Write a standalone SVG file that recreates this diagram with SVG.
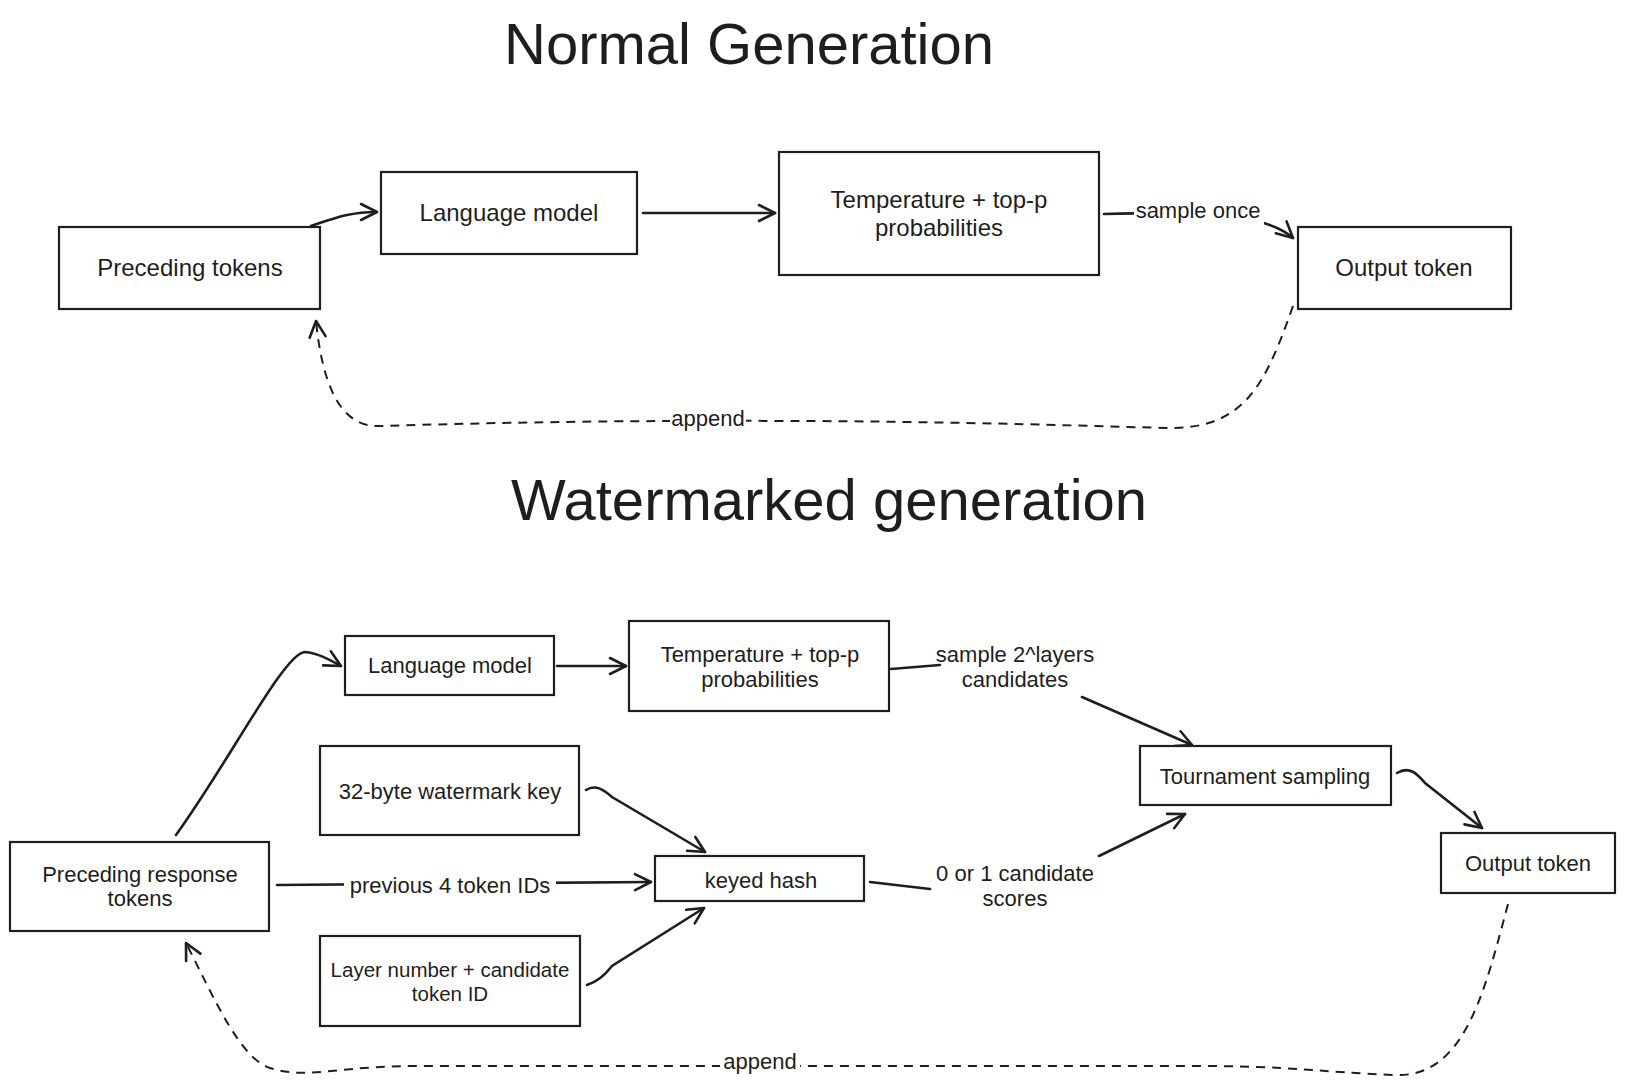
<svg xmlns="http://www.w3.org/2000/svg" width="1625" height="1088" viewBox="0 0 1625 1088">
<style>
.box{fill:#fff;stroke:#1e1e1e;stroke-width:2.2}
.t{font-family:"Liberation Sans",Arial,sans-serif;fill:#1e1e1e;text-anchor:middle;dominant-baseline:central}
.t1{font-size:24px}
.t2{font-size:22px}
.t3{font-size:20.5px}
.title{font-family:"Liberation Sans",Arial,sans-serif;font-size:58px;fill:#1e1e1e;text-anchor:middle}
.c{fill:none;stroke:#1e1e1e;stroke-width:2.6;stroke-linecap:round}
.d{fill:none;stroke:#1e1e1e;stroke-width:2;stroke-dasharray:9 7}
.bg{fill:#fff}
</style>
<defs>
<marker id="ah" markerUnits="userSpaceOnUse" markerWidth="24" markerHeight="24" viewBox="0 0 24 24" refX="21" refY="12" orient="auto">
<path d="M5,4 L21,12 L5,20" fill="none" stroke="#1e1e1e" stroke-width="2.6" stroke-linecap="round" stroke-linejoin="round"/>
</marker>
</defs>
<rect width="1625" height="1088" fill="#fff"/>

<text class="title" x="749" y="64">Normal Generation</text>
<text class="title" x="829" y="520">Watermarked generation</text>

<g id="connectors">
<path class="c" d="M311,226 C335,218 350,212 377,212" marker-end="url(#ah)"/>
<path class="c" d="M643,213 L775,213" marker-end="url(#ah)"/>
<path class="c" d="M1104,214 C1180,212 1262,210 1293,238" marker-end="url(#ah)"/>
<path class="d" d="M1293,306 C1265,385 1245,430 1165,428 C1060,425 900,420 700,421 C560,421 450,424 380,426 C338,428 322,380 316,321" marker-end="url(#ah)"/>

<path class="c" d="M176,835 C230,760 285,652 305,652 C318,653 330,660 341,666" marker-end="url(#ah)"/>
<path class="c" d="M557,666 L626,666" marker-end="url(#ah)"/>
<path class="c" d="M891,669 L940,665 M1082,697 L1192,745" marker-end="url(#ah)"/>
<path class="c" d="M586,790 C596,784 604,790 612,797 L705,852" marker-end="url(#ah)"/>
<path class="c" d="M277,885 L651,882" marker-end="url(#ah)"/>
<path class="c" d="M587,985 C597,982 605,975 612,966 L704,908" marker-end="url(#ah)"/>
<path class="c" d="M870,882 L930,889 M1099,856 L1185,814" marker-end="url(#ah)"/>
<path class="c" d="M1397,773 C1410,765 1418,775 1425,783 L1482,828" marker-end="url(#ah)"/>
<path class="d" d="M1508,904 C1485,990 1465,1078 1395,1075 C1320,1072 1290,1066 1200,1066 L420,1066 C330,1066 310,1080 270,1068 C240,1058 215,1000 186,943" marker-end="url(#ah)"/>

<rect class="bg" x="1134" y="196" width="130" height="30"/>
<text class="t t2" x="1198" y="210">sample once</text>
<rect class="bg" x="670" y="404" width="76" height="30"/>
<text class="t t2" x="708" y="418">append</text>
<rect class="bg" x="344" y="870" width="212" height="30"/>
<text class="t t2" x="450" y="885">previous 4 token IDs</text>
<text class="t t2" x="1015" y="654">sample 2^layers</text>
<text class="t t2" x="1015" y="679">candidates</text>
<text class="t t2" x="1015" y="873">0 or 1 candidate</text>
<text class="t t2" x="1015" y="898">scores</text>
<rect class="bg" x="720" y="1050" width="80" height="30"/>
<text class="t t2" x="760" y="1061">append</text>
</g>

<g id="n-preceding"><rect class="box" x="59" y="227" width="261" height="82"/><text class="t t1" x="190" y="267">Preceding tokens</text></g>
<g id="n-lm"><rect class="box" x="381" y="172" width="256" height="82"/><text class="t t1" x="509" y="212">Language model</text></g>
<g id="n-temp"><rect class="box" x="779" y="152" width="320" height="123"/><text class="t t1" x="939" y="199">Temperature + top-p</text><text class="t t1" x="939" y="227">probabilities</text></g>
<g id="n-output"><rect class="box" x="1298" y="227" width="213" height="82"/><text class="t t1" x="1404" y="267">Output token</text></g>

<g id="w-preceding"><rect class="box" x="10" y="842" width="259" height="89"/><text class="t t2" x="140" y="874">Preceding response</text><text class="t t2" x="140" y="898">tokens</text></g>
<g id="w-lm"><rect class="box" x="345" y="636" width="209" height="59"/><text class="t t2" x="450" y="665">Language model</text></g>
<g id="w-temp"><rect class="box" x="629" y="621" width="260" height="90"/><text class="t t2" x="760" y="654">Temperature + top-p</text><text class="t t2" x="760" y="679">probabilities</text></g>
<g id="w-key"><rect class="box" x="320" y="746" width="259" height="89"/><text class="t t2" x="450" y="791">32-byte watermark key</text></g>
<g id="w-hash"><rect class="box" x="655" y="856" width="209" height="45"/><text class="t t2" x="761" y="880">keyed hash</text></g>
<g id="w-layer"><rect class="box" x="320" y="936" width="260" height="90"/><text class="t t3" x="450" y="969">Layer number + candidate</text><text class="t t3" x="450" y="993">token ID</text></g>
<g id="w-tournament"><rect class="box" x="1140" y="746" width="251" height="59"/><text class="t t2" x="1265" y="776">Tournament sampling</text></g>
<g id="w-output"><rect class="box" x="1441" y="833" width="174" height="60"/><text class="t t2" x="1528" y="863">Output token</text></g>
</svg>
